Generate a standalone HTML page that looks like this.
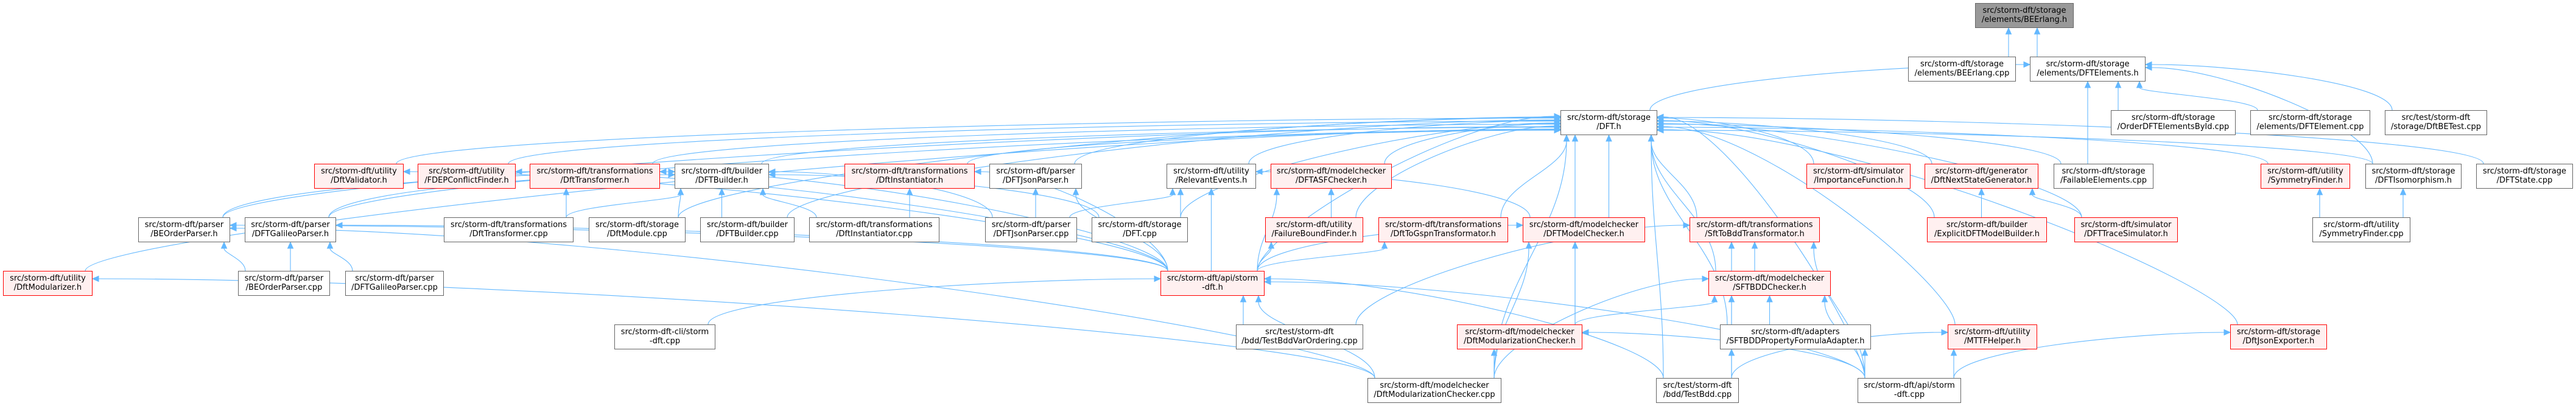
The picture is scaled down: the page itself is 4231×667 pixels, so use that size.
<!DOCTYPE html>
<html><head><meta charset="utf-8">
<style>
html,body{margin:0;padding:0;background:#fff;}
#c{position:relative;width:4231px;height:667px;overflow:hidden;background:#fff;}
svg{position:absolute;left:0;top:0;}
.n{position:absolute;height:41px;box-sizing:border-box;border:1px solid #666;background:#fff;font-family:"DejaVu Sans","Liberation Sans",sans-serif;font-size:13px;line-height:15px;text-align:center;white-space:nowrap;padding-top:4px;color:#000;z-index:2;overflow:visible;}
.r{border-color:#ff0000;background:#fff0f0;}
.g{background:#999;border-color:#666;}
</style></head><body>
<div id="c">
<svg id="s" width="4231" height="667" viewBox="0 0 4231 667"></svg>
<div class="n g" id="n1" style="left:3244px;top:5px;width:162px">src/storm-dft/storage<br>/elements/BEErlang.h</div>
<div class="n" id="n2" style="left:3134px;top:93px;width:177px">src/storm-dft/storage<br>/elements/BEErlang.cpp</div>
<div class="n" id="n3" style="left:3334px;top:93px;width:190px">src/storm-dft/storage<br>/elements/DFTElements.h</div>
<div class="n" id="n4" style="left:2563px;top:181px;width:159px">src/storm-dft/storage<br>/DFT.h</div>
<div class="n" id="n5" style="left:3467px;top:181px;width:205px">src/storm-dft/storage<br>/OrderDFTElementsById.cpp</div>
<div class="n" id="n6" style="left:3696px;top:181px;width:197px">src/storm-dft/storage<br>/elements/DFTElement.cpp</div>
<div class="n" id="n7" style="left:3917px;top:181px;width:168px">src/test/storm-dft<br>/storage/DftBETest.cpp</div>

<div class="n r" id="n8" style="left:516px;top:269px;width:147px">src/storm-dft/utility<br>/DftValidator.h</div>
<div class="n r" id="n9" style="left:686px;top:269px;width:161px">src/storm-dft/utility<br>/FDEPConflictFinder.h</div>
<div class="n r" id="n10" style="left:870px;top:269px;width:214px">src/storm-dft/transformations<br>/DftTransformer.h</div>
<div class="n" id="n11" style="left:1108px;top:269px;width:155px">src/storm-dft/builder<br>/DFTBuilder.h</div>
<div class="n r" id="n12" style="left:1387px;top:269px;width:214px">src/storm-dft/transformations<br>/DftInstantiator.h</div>
<div class="n" id="n13" style="left:1625px;top:269px;width:152px">src/storm-dft/parser<br>/DFTJsonParser.h</div>
<div class="n" id="n14" style="left:1916px;top:269px;width:147px">src/storm-dft/utility<br>/RelevantEvents.h</div>
<div class="n r" id="n15" style="left:2087px;top:269px;width:199px">src/storm-dft/modelchecker<br>/DFTASFChecker.h</div>
<div class="n r" id="n16" style="left:2967px;top:269px;width:171px">src/storm-dft/simulator<br>/ImportanceFunction.h</div>
<div class="n r" id="n17" style="left:3161px;top:269px;width:187px">src/storm-dft/generator<br>/DftNextStateGenerator.h</div>
<div class="n" id="n18" style="left:3373px;top:269px;width:164px">src/storm-dft/storage<br>/FailableElements.cpp</div>
<div class="n r" id="n19" style="left:3713px;top:269px;width:147px">src/storm-dft/utility<br>/SymmetryFinder.h</div>
<div class="n" id="n20" style="left:3885px;top:269px;width:158px">src/storm-dft/storage<br>/DFTIsomorphism.h</div>
<div class="n" id="n21" style="left:4067px;top:269px;width:159px">src/storm-dft/storage<br>/DFTState.cpp</div>

<div class="n" id="n22" style="left:227px;top:357px;width:151px">src/storm-dft/parser<br>/BEOrderParser.h</div>
<div class="n" id="n23" style="left:402px;top:357px;width:150px">src/storm-dft/parser<br>/DFTGalileoParser.h</div>
<div class="n" id="n24" style="left:729px;top:357px;width:213px">src/storm-dft/transformations<br>/DftTransformer.cpp</div>
<div class="n" id="n25" style="left:967px;top:357px;width:159px">src/storm-dft/storage<br>/DftModule.cpp</div>
<div class="n" id="n26" style="left:1150px;top:357px;width:155px">src/storm-dft/builder<br>/DFTBuilder.cpp</div>
<div class="n" id="n27" style="left:1329px;top:357px;width:214px">src/storm-dft/transformations<br>/DftInstantiator.cpp</div>
<div class="n" id="n28" style="left:1618px;top:357px;width:151px">src/storm-dft/parser<br>/DFTJsonParser.cpp</div>
<div class="n" id="n29" style="left:1793px;top:357px;width:158px">src/storm-dft/storage<br>/DFT.cpp</div>
<div class="n r" id="n30" style="left:2078px;top:357px;width:161px">src/storm-dft/utility<br>/FailureBoundFinder.h</div>
<div class="n r" id="n31" style="left:2264px;top:357px;width:213px">src/storm-dft/transformations<br>/DftToGspnTransformator.h</div>
<div class="n r" id="n32" style="left:2501px;top:357px;width:201px">src/storm-dft/modelchecker<br>/DFTModelChecker.h</div>
<div class="n r" id="n33" style="left:2775px;top:357px;width:214px">src/storm-dft/transformations<br>/SftToBddTransformator.h</div>
<div class="n r" id="n34" style="left:3165px;top:357px;width:197px">src/storm-dft/builder<br>/ExplicitDFTModelBuilder.h</div>
<div class="n r" id="n35" style="left:3407px;top:357px;width:170px">src/storm-dft/simulator<br>/DFTTraceSimulator.h</div>
<div class="n" id="n36" style="left:3798px;top:357px;width:161px">src/storm-dft/utility<br>/SymmetryFinder.cpp</div>

<div class="n r" id="n37" style="left:5px;top:445px;width:147px">src/storm-dft/utility<br>/DftModularizer.h</div>
<div class="n" id="n38" style="left:391px;top:445px;width:151px">src/storm-dft/parser<br>/BEOrderParser.cpp</div>
<div class="n" id="n39" style="left:567px;top:445px;width:162px">src/storm-dft/parser<br>/DFTGalileoParser.cpp</div>
<div class="n r" id="n40" style="left:1906px;top:445px;width:171px">src/storm-dft/api/storm<br>-dft.h</div>
<div class="n r" id="n41" style="left:2806px;top:445px;width:201px">src/storm-dft/modelchecker<br>/SFTBDDChecker.h</div>

<div class="n" id="n42" style="left:1009px;top:533px;width:166px">src/storm-dft-cli/storm<br>-dft.cpp</div>
<div class="n" id="n43" style="left:2030px;top:533px;width:209px">src/test/storm-dft<br>/bdd/TestBddVarOrdering.cpp</div>
<div class="n r" id="n44" style="left:2393px;top:533px;width:206px">src/storm-dft/modelchecker<br>/DftModularizationChecker.h</div>
<div class="n" id="n45" style="left:2825px;top:533px;width:248px">src/storm-dft/adapters<br>/SFTBDDPropertyFormulaAdapter.h</div>
<div class="n r" id="n46" style="left:3199px;top:533px;width:147px">src/storm-dft/utility<br>/MTTFHelper.h</div>
<div class="n r" id="n47" style="left:3663px;top:533px;width:159px">src/storm-dft/storage<br>/DftJsonExporter.h</div>

<div class="n" id="n48" style="left:2246px;top:621px;width:220px">src/storm-dft/modelchecker<br>/DftModularizationChecker.cpp</div>
<div class="n" id="n49" style="left:2720px;top:621px;width:136px">src/test/storm-dft<br>/bdd/TestBdd.cpp</div>
<div class="n" id="n50" style="left:3051px;top:621px;width:170px">src/storm-dft/api/storm<br>-dft.cpp</div>
</div>
<script>
(function(){
var E=[[2,1],[3,1],[4,3],[5,3],[6,3],[7,3],[18,3],[20,3],
[8,4],[9,4],[10,4],[11,4],[12,4],[13,4],[14,4],[15,4],[16,4],[17,4],[18,4],[19,4],[20,4],[21,4],[22,4],[23,4],[25,4],[26,4],[29,4],[30,4],[31,4],[32,4],[33,4],[34,4],[35,4],[37,4],[40,4],[41,4],[44,4],[45,4],[46,4],[47,4],[48,4],[49,4],[50,4],
[24,10],[40,10],[22,11],[23,11],[24,11],[25,11],[26,11],[27,11],[28,11],[29,11],
[27,12],[40,12],[28,13],[40,13],[28,14],[29,14],[40,14],[32,14],[30,15],[40,15],
[40,30],[40,31],[40,32],[44,32],[48,32],[41,33],[43,33],[50,33],[49,33],
[45,41],[50,41],[44,41],[48,41],[49,41],[50,45],[49,45],[50,46],[49,46],[50,47],
[48,44],[50,44],[34,17],[35,17],[36,19],[36,20],[38,22],[40,22],[48,22],[38,23],[39,23],[40,23],
[42,40],[43,40],[49,40],[48,40],[50,40],[48,37],[40,8],[40,9]];
var s=document.getElementById('s'),NS='http://www.w3.org/2000/svg',C='#63b8ff';
function b(i){var e=document.getElementById('n'+i);var l=e.offsetLeft,t=e.offsetTop,w=e.offsetWidth,h=e.offsetHeight;return{l:l,t:t,r:l+w,b:t+h,cx:l+w/2,cy:t+h/2};}
function cl(v,a,z){return Math.max(a,Math.min(z,v));}
var sideCount={};
E.forEach(function(e,k){
 var c=b(e[0]),p=b(e[1]);
 var sx=cl(p.cx,c.l+12,c.r-12),sy=c.t;
 var ex,ey,c1x,c1y,c2x,c2y,dx,dy;
 var tx=cl(sx,p.l+10,p.r-10);
 if(Math.abs(sx-tx)>260){
   var left=sx<p.l; var key=e[1]+(left?'L':'R'); sideCount[key]=(sideCount[key]||0)+1;
   var n=sideCount[key];
   ex=left?p.l:p.r; ey=p.t+8+((n*5)%26);
   var d=Math.abs(ex-sx);
   c1x=sx; c1y=sy-Math.min(60,(sy-ey)*0.6);
   c2x=left?ex-d*0.35:ex+d*0.35; c2y=ey;
   dx=left?1:-1; dy=0;
 } else {
   ex=tx; ey=p.b; var v=sy-ey;
   c1x=sx; c1y=sy-v*0.4; c2x=ex; c2y=ey+v*0.4;
   var lx=ex-c2x,ly=ey-c2y,L=Math.sqrt(lx*lx+ly*ly)||1; dx=lx/L; dy=ly/L;
 }
 var ax=ex-dx*10,ay=ey-dy*10;
 var path=document.createElementNS(NS,'path');
 path.setAttribute('d','M'+sx+' '+sy+' C'+c1x+' '+c1y+' '+c2x+' '+c2y+' '+ax+' '+ay);
 path.setAttribute('fill','none');path.setAttribute('stroke',C);path.setAttribute('stroke-width','1.1');
 s.appendChild(path);
 var px=-dy,py=dx;
 var poly=document.createElementNS(NS,'polygon');
 poly.setAttribute('points',ex+','+ey+' '+(ax+px*4.5)+','+(ay+py*4.5)+' '+(ax-px*4.5)+','+(ay-py*4.5));
 poly.setAttribute('fill',C);poly.setAttribute('stroke',C);
 s.appendChild(poly);
});
})();
</script>
</body></html>
